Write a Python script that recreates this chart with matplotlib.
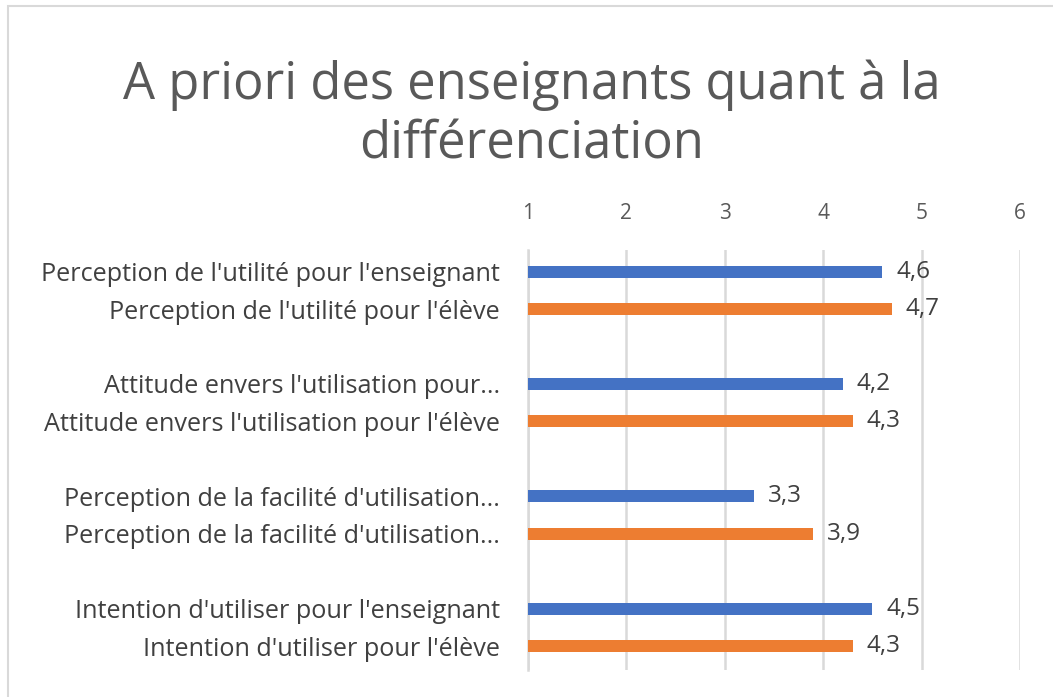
import matplotlib.pyplot as plt
from matplotlib.patches import Rectangle

# Données
categories = [
    "Perception de l'utilité pour l'enseignant",
    "Perception de l'utilité pour l'élève",
    "Attitude envers l'utilisation pour...",
    "Attitude envers l'utilisation pour l'élève",
    "Perception de la facilité d'utilisation...",
    "Perception de la facilité d'utilisation...",
    "Intention d'utiliser pour l'enseignant",
    "Intention d'utiliser pour l'élève",
]
values = [4.6, 4.7, 4.2, 4.3, 3.3, 3.9, 4.5, 4.3]
groups = ["enseignant", "élève", "enseignant", "élève", "enseignant", "élève", "enseignant", "élève"]
x_ticks = [1, 2, 3, 4, 5, 6]

colors = {"enseignant": "#4472C4", "élève": "#ED7D31"}
plt.rcParams['font.family'] = ['Open Sans', 'DejaVu Sans']

fig = plt.figure(figsize=(10.53, 6.97), dpi=100)
ax = fig.add_axes([0.5014, 0.039, 0.4673, 0.602])

# positions avec une ligne vide entre chaque paire
pos = []
row = 0
for i in range(len(values)):
    pos.append(row)
    row += 1
    if i % 2 == 1:
        row += 1

base = 1
for p, v, g in zip(pos, values, groups):
    ax.barh(p, v - base, left=base, height=0.32, color=colors[g], zorder=3)
    ax.text(v + 0.14, p, f"{v:.1f}".replace(".", ","), va="center", ha="left",
            fontsize=17.5, color="#404040")

ax.set_xlim(1, 6)
ax.set_ylim(pos[-1] + 0.63, -0.57)
ax.set_xticks(x_ticks)
ax.set_xticklabels([str(t) for t in x_ticks])
ax.xaxis.tick_top()
ax.tick_params(axis="x", length=0, pad=19, labelsize=15, labelcolor="#595959")
ax.set_yticks(pos)
ax.set_yticklabels(categories)
ax.tick_params(axis="y", length=0, pad=20, labelsize=18.2, labelcolor="#404040")
ax.grid(axis="x", color="#D9D9D9", linewidth=1.8, zorder=0)
for s in ["top", "right", "bottom"]:
    ax.spines[s].set_visible(False)
ax.spines["left"].set_color("#D9D9D9")
ax.spines["left"].set_linewidth(1.8)

fig.text(0.505, 0.835, "A priori des enseignants quant à la\ndifférenciation",
         ha="center", va="center", fontsize=36.5, color="#595959", linespacing=1.2)

# cadre du graphique
fig.patches.append(Rectangle((8 / 1053, -0.01), 1.05, 1 - 6 / 697 + 0.01,
                             transform=fig.transFigure, fill=False,
                             edgecolor="#D9D9D9", linewidth=1.5))

fig.savefig("out.png", dpi=100)
